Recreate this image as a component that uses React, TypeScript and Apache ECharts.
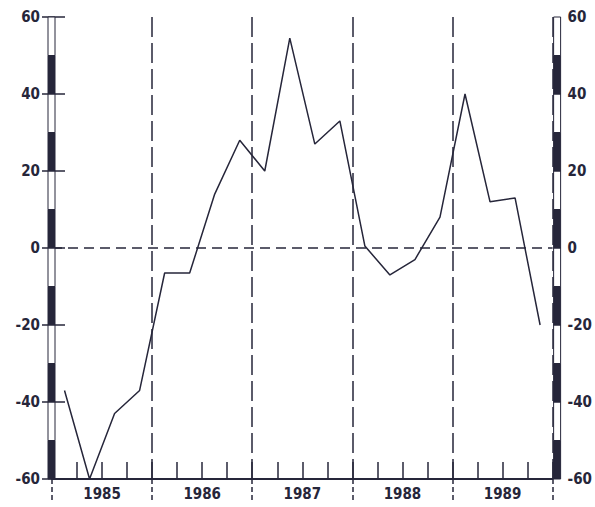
import React, { useEffect, useRef } from "react";
import * as echarts from "echarts";

// Quarterly values, 1985 Q1 .. 1989 Q4
const years = ["1985", "1986", "1987", "1988", "1989"];
const quarterValues = [
  -37, -60, -43, -37,
  -6.5, -6.5, 14, 28,
  20, 54.5, 27, 33,
  0.5, -7, -3, 8,
  40, 12, 13, -20,
];
const yTicks = [-60, -40, -20, 0, 20, 40, 60];

const INK = "#26263a";
const FONT = "'DejaVu Sans Condensed', 'DejaVu Sans', sans-serif";

export default function App() {
  const ref = useRef<HTMLDivElement>(null);

  useEffect(() => {
    if (!ref.current) return;
    const chart = echarts.init(ref.current, null, { renderer: "svg" });

    const nQ = quarterValues.length;
    const lineData = quarterValues.map((v, i) => [i + 0.5, v]);

    const yMin = yTicks[0];
    const yMax = yTicks[yTicks.length - 1];
    // axis ruler segments (10 units each), alternating fill
    const segs: number[][] = [];
    for (let side = 0; side < 2; side++) {
      let k = 0;
      for (let y = yMin; y < yMax; y += 10) {
        segs.push([y, y + 10, side, k % 2 === 0 ? 1 : 0]);
        k++;
      }
    }

    const labelStyle = {
      color: INK,
      fontFamily: FONT,
      fontWeight: "bold",
      fontSize: 15,
    };

    const option: any = {
      animation: false,
      backgroundColor: "#ffffff",
      grid: { left: 52, right: 42, top: 17, bottom: 28, containLabel: false },
      xAxis: [
        {
          type: "value",
          min: 0,
          max: nQ,
          interval: 1,
          position: "bottom",
          axisLine: { show: true, onZero: false, lineStyle: { color: INK, width: 2 } },
          axisTick: { show: true, inside: true, length: 17, lineStyle: { color: INK, width: 1.5 } },
          axisLabel: {
            show: true,
            margin: 7,
            ...labelStyle,
            formatter: (v: number) => {
              const r = Math.round(v);
              if (r % 4 === 2) return years[(r - 2) / 4] ?? "";
              return "";
            },
          },
          splitLine: { show: false },
        },
        {
          type: "value",
          min: 0,
          max: nQ,
          interval: 4,
          position: "bottom",
          axisLine: { show: false, onZero: false },
          axisTick: {
            show: true,
            inside: false,
            length: 21,
            lineStyle: { color: INK, width: 1.5, type: [5, 3] },
          },
          axisLabel: { show: false },
          splitLine: {
            show: true,
            lineStyle: { color: INK, width: 1.5, type: [20, 6] },
          },
        },
      ],
      yAxis: [
        {
          type: "value",
          min: yMin,
          max: yMax,
          interval: 20,
          position: "left",
          axisLine: { show: false },
          axisTick: { show: true, length: 10, lineStyle: { color: INK, width: 1.5 } },
          axisLabel: { margin: 12, ...labelStyle },
          splitLine: { show: false },
        },
        {
          type: "value",
          min: yMin,
          max: yMax,
          interval: 20,
          position: "right",
          axisLine: { show: false },
          axisTick: { show: true, length: 13, lineStyle: { color: INK, width: 1.5 } },
          axisLabel: { margin: 15, ...labelStyle },
          splitLine: { show: false },
        },
      ],
      series: [
        {
          type: "line",
          xAxisIndex: 0,
          yAxisIndex: 0,
          data: lineData,
          symbol: "none",
          lineStyle: { color: INK, width: 1.5 },
          z: 3,
          markLine: {
            silent: true,
            symbol: ["none", "none"],
            label: { show: false },
            lineStyle: { color: INK, width: 1.5, type: [10, 6] },
            data: [{ yAxis: 0 }],
          },
        },
        {
          type: "custom",
          xAxisIndex: 0,
          yAxisIndex: 0,
          data: segs,
          z: 5,
          silent: true,
          renderItem: (params: any, api: any) => {
            const y0 = api.value(0);
            const y1 = api.value(1);
            const side = api.value(2);
            const filled = api.value(3);
            const xVal = side === 0 ? 0 : nQ;
            const p0 = api.coord([xVal, y0]);
            const p1 = api.coord([xVal, y1]);
            const w = 7;
            const x = side === 0 ? p0[0] - 4 : p0[0] + 1;
            return {
              type: "rect",
              shape: { x, y: p1[1], width: w, height: p0[1] - p1[1] },
              style: { fill: filled ? INK : "#ffffff", stroke: INK, lineWidth: 1 },
            };
          },
        },
      ],
    };

    chart.setOption(option);
    return () => chart.dispose();
  }, []);

  return (
    <div
      ref={ref}
      style={{ position: "fixed", left: 0, top: 0, width: 595, height: 507 }}
    />
  );
}
